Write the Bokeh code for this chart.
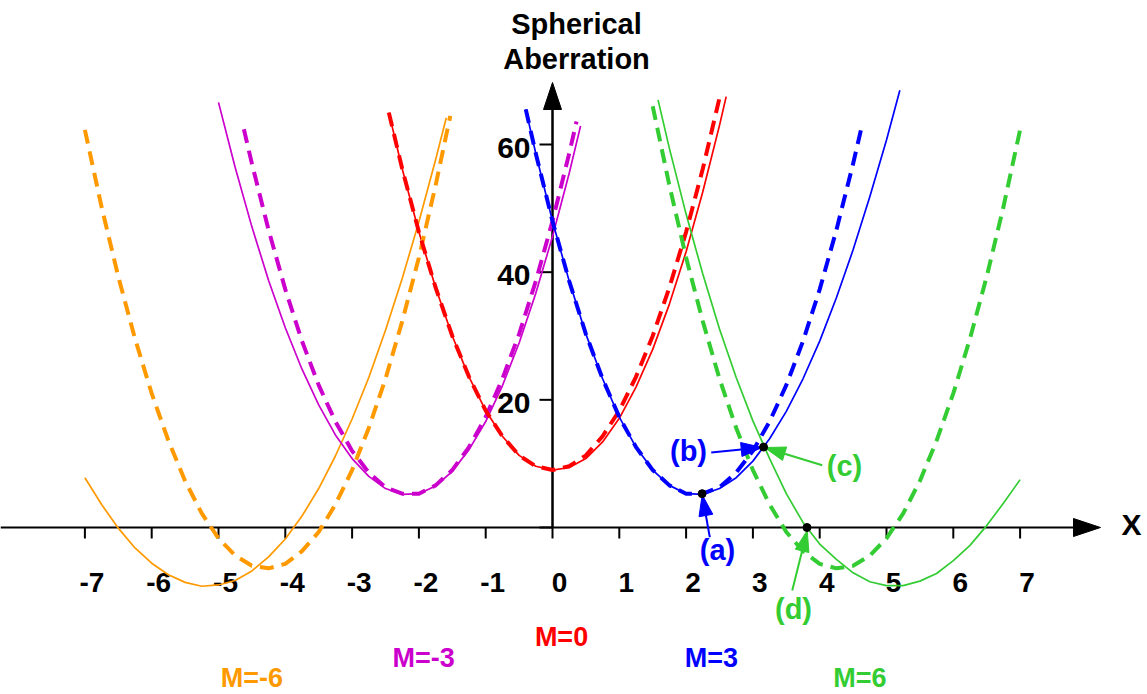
from bokeh.plotting import figure
from bokeh.models import Range1d
from bokeh.core.properties import value
from bokeh.embed import file_html
from bokeh.resources import INLINE

# ---------------- data ----------------
# M = 0 (red)
x_red_dash = [-2.45, -2.25, -2.0, -1.75, -1.5, -1.25, -1.0, -0.75, -0.5, -0.25, 0.0,
              0.25, 0.5, 0.75, 1.0, 1.25, 1.5, 1.75, 2.0, 2.25, 2.5]
y_red_dash = [65.0, 56.2, 46.3, 37.6, 30.0, 23.6, 18.3, 14.3, 11.3, 9.6, 9.0,
              9.6, 11.3, 14.3, 18.3, 23.6, 30.0, 37.6, 46.3, 56.2, 67.3]
x_red_solid = [-2.45, -2.25, -2.0, -1.75, -1.5, -1.25, -1.0, -0.75, -0.5, -0.25, 0.0,
               0.25, 0.5, 0.75, 1.0, 1.25, 1.5, 1.75, 2.0, 2.25, 2.5, 2.6]
y_red_solid = [65.0, 56.2, 46.3, 37.6, 30.0, 23.6, 18.3, 14.3, 11.3, 9.6, 9.0,
               9.4, 10.8, 13.4, 17.1, 22.0, 27.9, 35.0, 43.2, 52.6, 63.0, 67.5]

# M = 3 (blue)
x_blue_dash = [-0.4, -0.25, 0.0, 0.25, 0.5, 0.75, 1.0, 1.25, 1.5, 1.75, 2.0,
               2.25, 2.5, 2.75, 3.0, 3.25, 3.5, 3.75, 4.0, 4.25, 4.5, 4.62]
y_blue_dash = [65.5, 58.6, 48.0, 38.6, 30.3, 23.3, 17.3, 12.6, 9.0, 6.6, 5.3,
               5.3, 6.3, 8.6, 12.0, 16.6, 22.3, 29.2, 37.3, 46.6, 57.0, 62.4]
x_blue_solid = [-0.4, -0.25, 0.0, 0.25, 0.5, 0.75, 1.0, 1.25, 1.5, 1.75, 2.0,
                2.25, 2.5, 2.75, 3.0, 3.25, 3.5, 3.75, 4.0, 4.25, 4.5, 4.75, 5.0, 5.2]
y_blue_solid = [65.5, 58.6, 48.0, 38.6, 30.3, 23.3, 17.3, 12.6, 9.0, 6.6, 5.3,
                5.2, 6.1, 7.8, 10.4, 13.9, 18.2, 23.3, 29.2, 36.0, 43.5, 51.8, 60.7, 68.5]

# M = -3 (magenta)
x_mag_dash = [-4.62, -4.5, -4.25, -4.0, -3.75, -3.5, -3.25, -3.0, -2.75, -2.5, -2.25,
              -2.0, -1.75, -1.5, -1.25, -1.0, -0.75, -0.5, -0.25, 0.0, 0.25, 0.36]
y_mag_dash = [62.4, 57.0, 46.6, 37.3, 29.2, 22.3, 16.6, 12.0, 8.6, 6.3, 5.3,
              5.3, 6.6, 9.0, 12.6, 17.3, 23.3, 30.3, 38.6, 48.0, 58.6, 63.6]
x_mag_solid = [-5.0, -4.75, -4.5, -4.25, -4.0, -3.75, -3.5, -3.25, -3.0, -2.75, -2.5, -2.25,
               -2.0, -1.75, -1.5, -1.25, -1.0, -0.75, -0.5, -0.25, 0.0, 0.25, 0.42]
y_mag_solid = [66.6, 56.4, 47.1, 38.7, 31.3, 24.8, 19.2, 14.5, 10.8, 8.0, 6.1, 5.2,
               5.3, 6.5, 8.8, 12.2, 16.6, 22.2, 28.9, 36.7, 45.6, 55.5, 62.9]

# M = -6 (orange)
x_org_dash = [-7.0, -6.75, -6.5, -6.25, -6.0, -5.75, -5.5, -5.25, -5.0, -4.75, -4.5, -4.25,
              -4.0, -3.75, -3.5, -3.25, -3.0, -2.75, -2.5, -2.25, -2.0, -1.75, -1.53]
y_org_dash = [62.3, 50.2, 39.3, 29.6, 21.0, 13.6, 7.3, 2.2, -1.7, -4.4, -6.0, -6.4,
              -5.7, -3.7, -0.7, 3.6, 9.0, 15.6, 23.3, 32.3, 42.3, 53.6, 64.5]
x_org_solid = [-7.0, -6.75, -6.5, -6.25, -6.0, -5.75, -5.5, -5.25, -5.0, -4.75, -4.5, -4.25,
               -4.0, -3.75, -3.5, -3.25, -3.0, -2.75, -2.5, -2.25, -2.0, -1.75, -1.59]
y_org_solid = [7.8, 3.6, -0.1, -3.2, -5.6, -7.4, -8.6, -9.2, -9.0, -8.3, -6.8, -4.6,
               -1.8, 1.8, 6.1, 11.2, 17.0, 23.5, 30.9, 39.0, 47.9, 57.6, 64.2]

# M = 6 (green)
x_grn_dash = [1.5, 1.75, 2.0, 2.25, 2.5, 2.75, 3.0, 3.25, 3.5, 3.75, 4.0, 4.25,
              4.5, 4.75, 5.0, 5.25, 5.5, 5.75, 6.0, 6.25, 6.5, 6.75, 7.0]
y_grn_dash = [66.0, 53.6, 42.3, 32.3, 23.3, 15.6, 9.0, 3.6, -0.7, -3.7, -5.7, -6.4,
              -6.0, -4.4, -1.7, 2.2, 7.3, 13.6, 21.0, 29.6, 39.3, 50.2, 62.3]
x_grn_solid = [1.58, 1.75, 2.0, 2.25, 2.5, 2.75, 3.0, 3.25, 3.5, 3.75, 4.0, 4.25,
               4.5, 4.75, 5.0, 5.25, 5.5, 5.75, 6.0, 6.25, 6.5, 6.75, 7.0]
y_grn_solid = [67.0, 59.4, 49.1, 39.7, 31.1, 23.5, 16.7, 10.8, 5.3, 0.8, -2.6, -5.0,
               -7.1, -8.5, -9.1, -9.1, -8.4, -7.2, -5.2, -2.8, 0.3, 3.8, 7.5]

# marked points (a), (b)/(c), (d)
pt_x = [2.24, 3.16, 3.81]
pt_y = [5.3, 12.6, 0.0]

# axis ticks
x_ticks = [-7, -6, -5, -4, -3, -2, -1, 0, 1, 2, 3, 4, 5, 6, 7]
x_tick_labels = ["-7", "-6", "-5", "-4", "-3", "-2", "-1", "0", "1", "2", "3", "4", "5", "6", "7"]
y_ticks = [0, 20, 40, 60]
y_tick_labels = ["20", "40", "60"]

# curve labels
m_labels = ["M=-6", "M=-3", "M=0", "M=3", "M=6"]
m_x = [-4.50, -1.93, 0.135, 2.38, 4.60]
m_y = [-23.65, -20.52, -17.08, -20.37, -23.65]

# annotations: text, text position, arrow start, arrow tip
ann_text = ["(a)", "(b)", "(c)", "(d)"]
ann_tx = [2.47, 2.036, 4.371, 3.608]
ann_ty = [-3.6, 11.91, 9.56, -12.69]
ann_sx = [2.355, 2.376, 4.038, 3.589]
ann_sy = [-1.52, 11.75, 9.74, -9.87]
ann_ex = [2.241, 3.139, 3.174, 3.813]
ann_ey = [5.12, 12.54, 12.53, -0.47]

# ---------------- styling ----------------
RED, BLUE, MAG, ORG, GRN = "#ff0000", "#0000ff", "#cc00cc", "#ff9900", "#33cc33"
FONT = "Liberation Sans"
W, H = 1147, 694
X0_PX, Y0_PX = 552.0, 527.0       # pixel position of the origin
SX, SY = 66.8, 6.383              # pixels per data unit
x_lo, x_hi = -X0_PX / SX, (W - X0_PX) / SX
y_hi, y_lo = Y0_PX / SY, -(H - Y0_PX) / SY

p = figure(width=W, height=H, x_range=Range1d(x_lo, x_hi), y_range=Range1d(y_lo, y_hi),
           output_backend="svg", toolbar_location=None, tools="",
           x_axis_location=None, y_axis_location=None, min_border=0)
p.grid.visible = False
p.outline_line_color = None
p.background_fill_color = "white"
p.border_fill_color = "white"


def head(tip, start, length_px, half_w_px):
    tx, ty = tip
    sx0, sy0 = start
    dx = (tx - sx0) * SX
    dy = (ty - sy0) * SY
    L = (dx * dx + dy * dy) ** 0.5
    ux, uy = dx / L, dy / L
    bx, by = -ux * length_px, -uy * length_px
    nx, ny = -uy * half_w_px, ux * half_w_px
    xs = [tx, tx + (bx + nx) / SX, tx + (bx - nx) / SX]
    ys = [ty, ty + (by + ny) / SY, ty + (by - ny) / SY]
    base = (tx + bx / SX, ty + by / SY)
    return xs, ys, base


# ---- axes ----
AX_HEAD_L, AX_HEAD_W = 27, 9
x_tip = (1100 - X0_PX) / SX
y_tip = (Y0_PX - 82) / SY
hx, hy, xb = head((x_tip, 0), (0, 0), AX_HEAD_L, AX_HEAD_W)
p.segment(x0=[x_lo], y0=[0], x1=[xb[0]], y1=[0], line_color="black", line_width=2)
p.patch(hx, hy, fill_color="black", line_color="black", line_width=1)
hx, hy, yb = head((0, y_tip), (0, 0), AX_HEAD_L, AX_HEAD_W)
p.segment(x0=[0], y0=[0], x1=[0], y1=[yb[1]], line_color="black", line_width=2.5)
p.patch(hx, hy, fill_color="black", line_color="black", line_width=1)

p.segment(x0=x_ticks, y0=[0] * len(x_ticks), x1=x_ticks, y1=[-11 / SY] * len(x_ticks),
          line_color="black", line_width=2)
p.segment(x0=[0] * len(y_ticks), y0=y_ticks, x1=[-13 / SX] * len(y_ticks), y1=y_ticks,
          line_color="black", line_width=2)

p.text(x=[t + 7 / SX for t in x_ticks], y=[-55 / SY] * len(x_ticks), text=x_tick_labels,
       text_font=value(FONT), text_font_style="bold", text_font_size=value("28px"),
       text_color="black", text_align="center", text_baseline="middle")
p.text(x=[-22 / SX] * len(y_tick_labels), y=[t - 3 / SY for t in y_ticks[1:]], text=y_tick_labels,
       text_font=value(FONT), text_font_style="bold", text_font_size=value("30px"),
       text_color="black", text_align="right", text_baseline="middle")

p.text(x=[(576 - X0_PX) / SX] * 2, y=[(Y0_PX - 23) / SY, (Y0_PX - 58) / SY],
       text=["Spherical", "Aberration"],
       text_font=value(FONT), text_font_style="bold", text_font_size=value("29px"),
       text_color="black", text_align="center", text_baseline="middle")
p.text(x=[(1131 - X0_PX) / SX], y=[(Y0_PX - 524) / SY], text=["X"],
       text_font=value(FONT), text_font_style="bold", text_font_size=value("30px"),
       text_color="black", text_align="center", text_baseline="middle")

# ---- curves ----
SOLID_W, DASH_W, DASH = 1.7, 4, "14 8"
for xs, ys, c in [(x_org_solid, y_org_solid, ORG), (x_mag_solid, y_mag_solid, MAG),
                  (x_red_solid, y_red_solid, RED), (x_blue_solid, y_blue_solid, BLUE),
                  (x_grn_solid, y_grn_solid, GRN)]:
    p.line(xs, ys, line_color=c, line_width=SOLID_W, line_join="round")
for xs, ys, c in [(x_org_dash, y_org_dash, ORG), (x_mag_dash, y_mag_dash, MAG),
                  (x_red_dash, y_red_dash, RED), (x_blue_dash, y_blue_dash, BLUE),
                  (x_grn_dash, y_grn_dash, GRN)]:
    p.line(xs, ys, line_color=c, line_width=DASH_W, line_dash=DASH, line_join="round")

# ---- annotations ----
ann_col = [BLUE, BLUE, GRN, GRN]
for i in range(len(ann_text)):
    hx, hy, base = head((ann_ex[i], ann_ey[i]), (ann_sx[i], ann_sy[i]), 21, 7)
    p.segment(x0=[ann_sx[i]], y0=[ann_sy[i]], x1=[base[0]], y1=[base[1]],
              line_color=ann_col[i], line_width=2)
    p.patch(hx, hy, fill_color=ann_col[i], line_color=ann_col[i], line_width=1)
p.text(x=ann_tx, y=ann_ty, text=ann_text, text_color=ann_col,
       text_font=value(FONT), text_font_style="bold", text_font_size=value("29px"),
       text_align="center", text_baseline="middle")

p.scatter(pt_x, pt_y, size=8, marker="circle", fill_color="black", line_color="black")

p.text(x=m_x, y=m_y, text=m_labels, text_color=[ORG, MAG, RED, BLUE, GRN],
       text_font=value(FONT), text_font_style="bold", text_font_size=value("27px"),
       text_align="center", text_baseline="middle")

open("out.html", "w").write(file_html(p, INLINE))
